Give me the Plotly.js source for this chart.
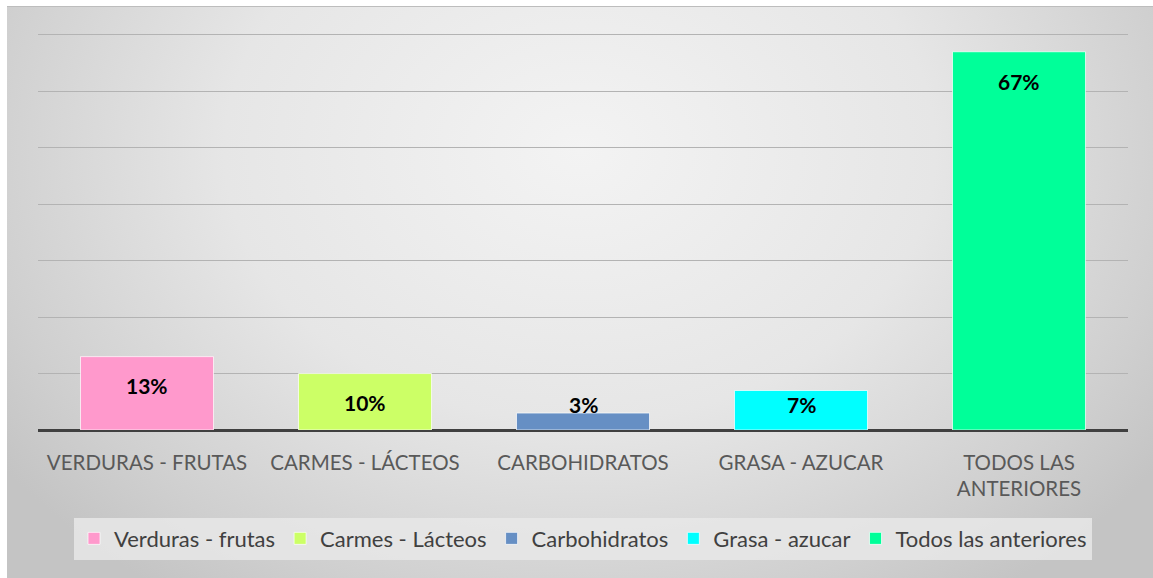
<!DOCTYPE html>
<html><head><meta charset="utf-8">
<script src="https://cdn.plot.ly/plotly-3.0.1.min.js"></script>
<style>
html,body{margin:0;padding:0;background:#fff;}
#bg{position:absolute;left:7px;top:6px;width:1146px;height:572px;border-top:1px solid #bdbdbd;
background:radial-gradient(ellipse 62% 95% at 50% 25%, #f3f3f3 0%, #e6e6e6 50%, #cfcfcf 85%, #c4c4c4 100%);}
#chart{position:absolute;left:0;top:0;width:1153px;height:578px;}
</style></head>
<body>
<div id="bg"></div>
<div id="chart"></div>
<script>
const categories = ["VERDURAS - FRUTAS","CARMES - LÁCTEOS","CARBOHIDRATOS","GRASA - AZUCAR","TODOS LAS<br>ANTERIORES"];
const seriesNames = ["Verduras - frutas","Carmes - Lácteos","Carbohidratos","Grasa - azucar","Todos las anteriores"];
const values = [0.13, 0.10, 0.03, 0.07, 0.67];
const labels = ["13%","10%","3%","7%","67%"];
const colors = ["#ff99cc","#ccff66","#668fc4","#00ffff","#00ff99"];

const traces = categories.map((c,i)=>({
  type:'bar', x:[c], y:[values[i]], name:seriesNames[i],
  marker:{color:colors[i], line:{color:'rgba(255,255,255,0.7)', width:1}},
  width:0.61, hoverinfo:'none'
}));

const annotations = categories.map((c,i)=>({
  x:c, y:Math.max(values[i]-0.052, 0.045), xref:'x', yref:'y',
  text:'<b>'+labels[i]+'</b>', showarrow:false,
  font:{family:'Lato, "Open Sans", sans-serif', size:21, color:'#000'}
}));

const layout = {
  width:1153, height:578,
  paper_bgcolor:'rgba(0,0,0,0)', plot_bgcolor:'rgba(0,0,0,0)',
  margin:{l:38, r:25, t:32, b:148},
  barmode:'overlay',
  showlegend:true,
  xaxis:{type:'category', categoryorder:'array', categoryarray:categories,
    showgrid:false, ticks:'outside', ticklen:14, tickcolor:'rgba(0,0,0,0)',
    tickfont:{family:'Lato, "Open Sans", sans-serif', size:20.5, color:'#595959'},
    showline:false, zeroline:false, fixedrange:true},
  yaxis:{range:[0,0.705], dtick:0.1, showticklabels:false, showgrid:true,
    gridcolor:'#b3b3b3', gridwidth:1, zeroline:true, zerolinecolor:'#404040', zerolinewidth:3,
    showline:false, fixedrange:true},
  legend:{orientation:'h', x:0.5, xanchor:'center', y:-0.22, yanchor:'top',
    bgcolor:'rgba(232,232,232,0.85)', font:{family:'Lato, "Open Sans", sans-serif', size:22, color:'#404040'},
    itemwidth:20, traceorder:'normal'},
  annotations:annotations,
  font:{family:'Lato, "Open Sans", sans-serif'}
};
Plotly.newPlot('chart', traces, layout, {displayModeBar:false, staticPlot:true});
</script>
</body></html>
